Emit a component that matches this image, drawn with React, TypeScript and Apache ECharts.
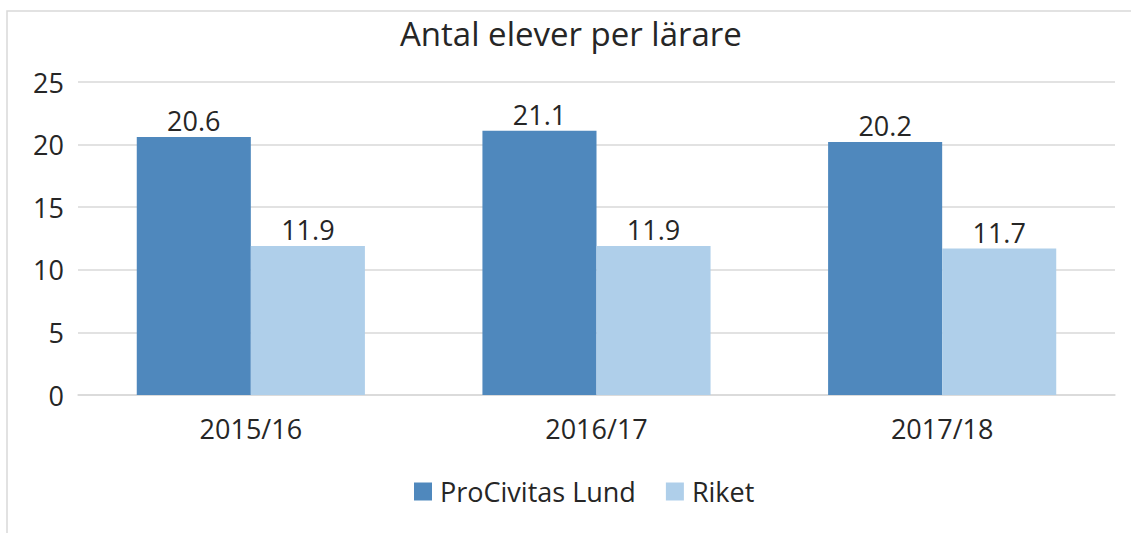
import React, { useEffect, useRef } from "react";
import * as echarts from "echarts";

const categories = ["2015/16", "2016/17", "2017/18"];
const procivitas = [20.6, 21.1, 20.2];
const riket = [11.9, 11.9, 11.7];
const seriesNames = ["ProCivitas Lund", "Riket"];
const titleText = "Antal elever per lärare";

const FONT = "'Open Sans', 'Noto Sans', sans-serif";
const TXT = "#262626";

export default function App() {
  const ref = useRef<HTMLDivElement>(null);
  useEffect(() => {
    const chart = echarts.init(ref.current!, null, { renderer: "svg" });
    chart.setOption({
      animation: false,
      backgroundColor: "#ffffff",
      textStyle: { fontFamily: FONT },
      title: {
        text: titleText,
        left: 400,
        top: 14,
        padding: 0,
        textStyle: { fontFamily: FONT, fontSize: 33, fontWeight: "normal", color: TXT, lineHeight: 38 },
      },
      graphic: [
        {
          type: "rect",
          shape: { x: 7, y: 11, width: 1200, height: 600 },
          style: { fill: "none", stroke: "#d9d9d9", lineWidth: 1.5 },
          silent: true,
          z: -1,
        },
      ],
      legend: {
        top: 478,
        left: 414,
        padding: 0,
        itemWidth: 18,
        itemHeight: 18,
        itemGap: 30,
        icon: "rect",
        textStyle: { fontFamily: FONT, fontSize: 27, color: TXT, padding: [0, 0, 0, 3] },
        data: seriesNames,
      },
      grid: { left: 78, right: 16, top: 82, bottom: 138 },
      xAxis: {
        type: "category",
        data: categories,
        axisLine: { show: true, lineStyle: { color: "#d9d9d9", width: 1.5 } },
        axisTick: { show: false },
        axisLabel: { fontFamily: FONT, fontSize: 27, color: TXT, margin: 20 },
      },
      yAxis: {
        type: "value",
        min: 0,
        max: 25,
        interval: 5,
        axisLine: { show: false },
        axisTick: { show: false },
        splitLine: { lineStyle: { color: "#d9d9d9", width: 1.5 } },
        axisLabel: { fontFamily: FONT, fontSize: 27, color: TXT, margin: 14 },
      },
      series: [
        {
          name: seriesNames[0],
          type: "bar",
          data: procivitas,
          barGap: "0%",
          barCategoryGap: "34%",
          itemStyle: { color: "#4f88bd" },
          label: { show: true, position: "top", distance: 3, fontFamily: FONT, fontSize: 27, color: TXT },
        },
        {
          name: seriesNames[1],
          type: "bar",
          data: riket,
          barGap: "0%",
          barCategoryGap: "34%",
          itemStyle: { color: "#afcfea" },
          label: { show: true, position: "top", distance: 3, fontFamily: FONT, fontSize: 27, color: TXT },
        },
      ],
    });
    return () => chart.dispose();
  }, []);
  return (
    <div
      ref={ref}
      style={{ position: "fixed", left: 0, top: 0, width: 1131, height: 533 }}
    />
  );
}
